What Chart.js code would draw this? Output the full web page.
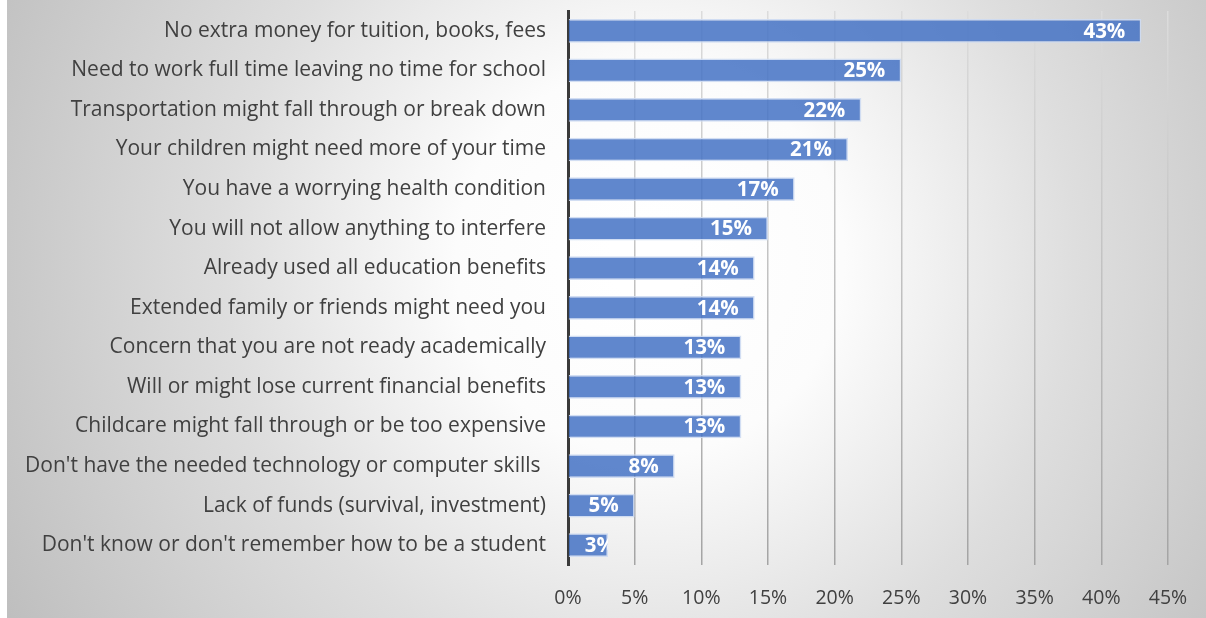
<!DOCTYPE html>
<html>
<head>
<meta charset="utf-8">
<script src="https://cdn.jsdelivr.net/npm/chart.js@4.4.1/dist/chart.umd.min.js"></script>
<style>
  html, body { margin: 0; padding: 0; background: #ffffff; }
  #wrap { width: 1206px; height: 618px; position: relative; }
</style>
</head>
<body>
<div id="wrap"><canvas id="chart" width="1206" height="618"></canvas></div>
<script>
// Barriers to returning to school (share of respondents)
const categories = [
  "No extra money for tuition, books, fees",
  "Need to work full time leaving no time for school",
  "Transportation might fall through or break down",
  "Your children might need more of your time",
  "You have a worrying health condition",
  "You will not allow anything to interfere",
  "Already used all education benefits",
  "Extended family or friends might need you",
  "Concern that you are not ready academically",
  "Will or might lose current financial benefits",
  "Childcare might fall through or be too expensive",
  "Don't have the needed technology or computer skills ",
  "Lack of funds (survival, investment)",
  "Don't know or don't remember how to be a student"
];
const percentValues = [43, 25, 22, 21, 17, 15, 14, 14, 13, 13, 13, 8, 5, 3];
const tickValues = [0, 5, 10, 15, 20, 25, 30, 35, 40, 45];

const FONT = "'Open Sans', Lato, sans-serif";

// Soft radial backdrop behind the whole chart
const backdrop = {
  id: 'backdrop',
  beforeDraw(chart) {
    const { ctx, width, height } = chart;
    ctx.save();
    const g = ctx.createRadialGradient(650, 260, 40, 650, 260, 740);
    g.addColorStop(0, '#ffffff');
    g.addColorStop(0.22, '#fcfcfc');
    g.addColorStop(0.55, '#dedede');
    g.addColorStop(1, '#bebebe');
    ctx.fillStyle = g;
    ctx.fillRect(7, 0, width - 7, height);
    ctx.restore();
  }
};

// White percentage labels inside the end of each bar, clipped to the bar
const barLabels = {
  id: 'barLabels',
  afterDatasetsDraw(chart) {
    const { ctx } = chart;
    const meta = chart.getDatasetMeta(0);
    ctx.save();
    ctx.font = "bold 20.5px " + FONT;
    ctx.fillStyle = '#ffffff';
    ctx.textBaseline = 'middle';
    ctx.textAlign = 'left';
    meta.data.forEach((bar, i) => {
      const text = percentValues[i] + '%';
      const w = ctx.measureText(text).width;
      const pad = 16;
      const left = Math.max(bar.x - pad - w, bar.base + pad);
      ctx.save();
      ctx.beginPath();
      ctx.rect(bar.base, bar.y - bar.height / 2, bar.x - bar.base, bar.height);
      ctx.clip();
      ctx.fillText(text, left, bar.y + 1);
      ctx.restore();
    });
    ctx.restore();
  }
};

function gridColor(context) {
  const chart = context.chart;
  const area = chart.chartArea;
  if (!area) return '#cfcfcf';
  const g = chart.ctx.createLinearGradient(0, area.top, 0, area.bottom);
  g.addColorStop(0, '#dcdcdc');
  g.addColorStop(1, '#a4a4a4');
  return g;
}

new Chart(document.getElementById('chart'), {
  type: 'bar',
  data: {
    labels: categories,
    datasets: [{
      data: percentValues,
      backgroundColor: 'rgba(68,114,196,0.85)',
      borderColor: 'rgba(205,218,242,0.9)',
      borderWidth: 1.5,
      borderSkipped: 'start',
      categoryPercentage: 1,
      barPercentage: 0.6
    }]
  },
  options: {
    indexAxis: 'y',
    responsive: false,
    animation: false,
    devicePixelRatio: 1,
    layout: { padding: { top: 11, right: 38, bottom: 0, left: 0 } },
    plugins: { legend: { display: false }, tooltip: { enabled: false } },
    scales: {
      x: {
        min: 0,
        max: 45,
        afterBuildTicks(scale) {
          scale.ticks = tickValues.map(v => ({ value: v }));
        },
        afterFit(scale) {
          scale.height = 53;
          scale.paddingLeft = 0;
          scale.paddingRight = 0;
        },
        grid: { color: gridColor, lineWidth: 1.5, drawTicks: false },
        border: { display: false },
        ticks: {
          padding: 22,
          color: '#404040',
          font: { family: FONT, size: 19.5 },
          callback: v => v + '%'
        }
      },
      y: {
        afterFit(scale) {
          scale.width = 568;
          scale.paddingTop = 0;
          scale.paddingBottom = 0;
        },
        grid: { display: false, drawTicks: false },
        border: { display: true, color: '#3a3a3a', width: 3 },
        ticks: {
          padding: 22,
          color: '#404040',
          font: { family: FONT, size: 21 }
        }
      }
    }
  },
  plugins: [backdrop, barLabels]
});
</script>
</body>
</html>
